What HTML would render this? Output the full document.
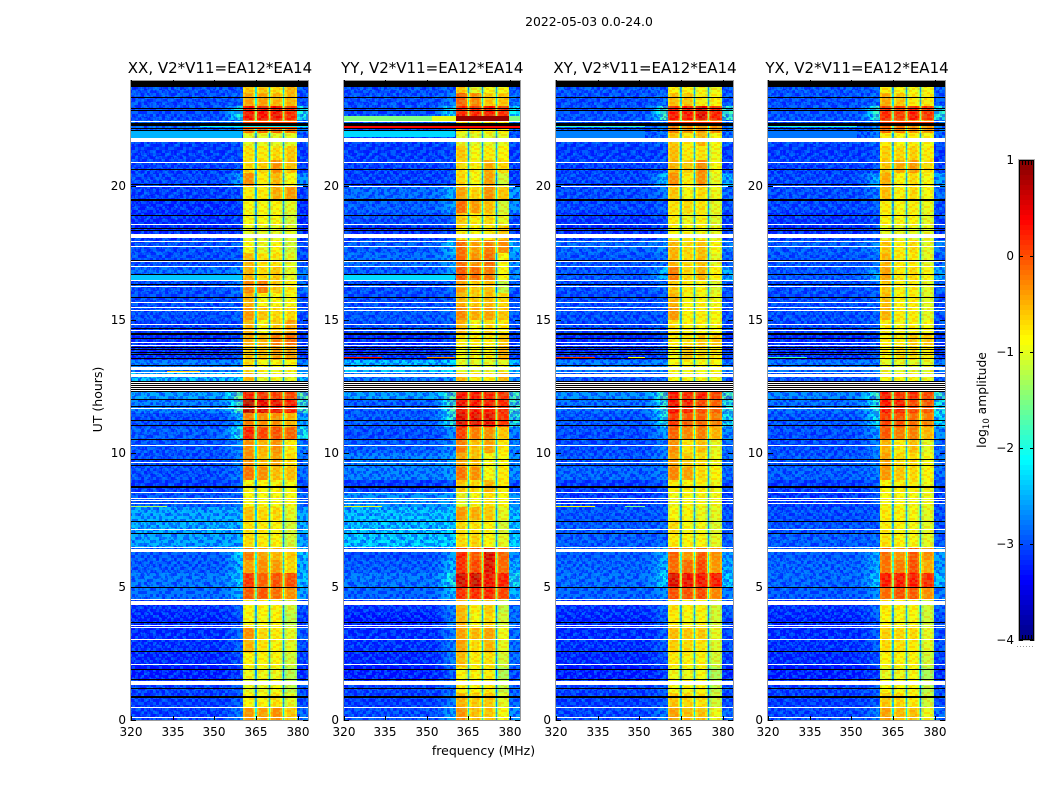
<!DOCTYPE html>
<html lang="en">
<head>
<meta charset="utf-8">
<title>2022-05-03 0.0-24.0</title>
<style>
html,body{margin:0;padding:0;background:#fff;}
svg{display:block;}
text{font-family:"DejaVu Sans","Liberation Sans",sans-serif;fill:#000;}
</style>
</head>
<body>
<svg id="figure" xmlns="http://www.w3.org/2000/svg" width="1050" height="800" viewBox="0 0 1050 800">
  <rect width="1050" height="800" fill="#fff"/>
  <defs>
    <pattern id="speckle" patternUnits="userSpaceOnUse" width="48" height="48"></pattern>
    <pattern id="speckleFine" patternUnits="userSpaceOnUse" width="29" height="37"></pattern>
    <pattern id="bandScatter" patternUnits="userSpaceOnUse" width="48" height="32"></pattern>
  </defs>
  <text x="589" y="26" font-size="12.4" text-anchor="middle">2022-05-03 0.0-24.0</text>
  <g id="panels"></g>
  <text x="483.5" y="755" font-size="12.5" text-anchor="middle">frequency (MHz)</text>
  <text x="0" y="0" font-size="12.5" text-anchor="middle" transform="translate(102,399.5) rotate(-90)">UT (hours)</text>
  <g id="colorbar"></g>
  <text x="0" y="0" font-size="12.3" text-anchor="middle" transform="translate(986,400) rotate(-90)">log<tspan dy="3" font-size="8.5">10</tspan><tspan dy="-3"> amplitude</tspan></text>
</svg>
<script>
// ---- categories and axes ----
const panelNames = ['XX', 'YY', 'XY', 'YX'];
const panelTitles = ['XX, V2*V11=EA12*EA14', 'YY, V2*V11=EA12*EA14', 'XY, V2*V11=EA12*EA14', 'YX, V2*V11=EA12*EA14'];
const freqTicks = [320, 335, 350, 365, 380];
const hourTicks = [0, 5, 10, 15, 20];
const colorbarTicks = [-4, -3, -2, -1, 0, 1];
const colorMin = -4;
const colorMax = 1;
const hourBins = [23.5,23,22.5,22,21.5,21,20.5,20,19.5,19,18.5,18,17.5,17,16.5,16,15.5,15,14.5,14,13.5,13,12.5,12,11.5,11,10.5,10,9.5,9,8.5,8,7.5,7,6.5,6,5.5,5,4.5,4,3.5,3,2.5,2,1.5,1,0.5,0];
const binHours = 0.5;
const subbandEdges = [360.4, 365, 370, 375, 379.7];
const shoulderChannels = [352, 353, 354, 355, 356, 357, 358, 359];
const shoulderShape = [0.06, 0.12, 0.22, 0.38, 0.58, 0.78, 0.92, 1];

// ---- background level (log10 amplitude) per half-hour bin ----
const backgroundXX = [-3.0,-3.0,-3.0,-2.9,-3.1,-3.1,-3.1,-3.05,-3.1,-3.2,-3.2,-3.2,-3.0,-3.0,-2.8,-3.0,-3.0,-3.0,-3.1,-3.2,-3.2,-2.7,-2.3,-2.5,-2.7,-3.0,-2.9,-2.95,-3.0,-3.0,-3.1,-2.95,-2.45,-2.4,-2.45,-2.9,-2.9,-2.75,-2.8,-3.2,-3.25,-3.2,-3.2,-3.25,-3.3,-3.1,-3.1,-3.1];
const backgroundYY = [-3.0,-3.0,-3.0,-3.0,-3.1,-3.1,-3.1,-3.1,-2.8,-2.9,-3.0,-3.2,-2.9,-2.8,-2.9,-3.0,-3.0,-2.95,-3.0,-3.2,-3.2,-2.3,-2.7,-2.5,-2.9,-2.9,-3.0,-2.9,-2.7,-2.7,-3.1,-2.6,-2.3,-2.25,-2.2,-3.0,-2.9,-2.75,-2.85,-3.2,-3.3,-3.2,-3.2,-3.25,-3.3,-3.1,-3.1,-3.0];
const backgroundXY = [-2.95,-3.0,-2.95,-3.0,-3.05,-3.1,-3.1,-3.05,-3.0,-3.05,-3.15,-3.2,-2.85,-2.95,-2.95,-3.0,-3.0,-3.0,-3.05,-3.2,-3.2,-2.7,-2.9,-2.6,-2.8,-2.95,-3.0,-3.0,-2.95,-2.85,-3.1,-3.15,-2.95,-2.9,-2.9,-2.9,-2.85,-2.8,-2.85,-3.2,-3.25,-3.2,-3.2,-3.25,-3.3,-3.1,-3.1,-3.05];
const backgroundYX = [-2.95,-3.0,-2.95,-3.0,-3.05,-3.1,-3.1,-3.05,-3.0,-3.05,-3.15,-3.2,-2.9,-2.95,-2.95,-3.0,-3.0,-3.0,-3.05,-3.2,-3.2,-2.75,-2.9,-2.65,-2.8,-2.95,-3.0,-3.0,-2.95,-2.9,-3.1,-3.15,-3.0,-2.95,-2.9,-2.9,-2.85,-2.85,-2.9,-3.2,-3.25,-3.2,-3.2,-3.25,-3.3,-3.1,-3.1,-3.05];

// ---- level just below the passband edge, per half-hour bin ----
const shoulderXX = [-3.0,-2.9,-1.9,-2.7,-2.9,-3.0,-3.0,-2.5,-3.0,-3.1,-3.1,-3.1,-2.9,-2.9,-2.6,-2.7,-2.9,-2.9,-3.0,-3.0,-3.0,-2.6,-2.2,-1.5,-1.7,-2.4,-1.9,-2.6,-2.7,-2.7,-2.9,-2.8,-2.4,-2.35,-2.4,-2.2,-2.3,-2.2,-2.4,-2.9,-3.0,-2.8,-2.9,-3.0,-3.1,-2.9,-2.9,-2.7];
const shoulderYY = [-2.9,-2.7,-2.0,-2.8,-2.9,-3.0,-3.0,-3.0,-2.4,-2.5,-2.9,-3.0,-2.3,-2.5,-2.5,-2.8,-2.9,-2.8,-2.9,-3.0,-3.0,-2.2,-2.5,-1.6,-1.7,-1.8,-2.6,-2.6,-2.5,-2.5,-2.9,-2.5,-2.25,-2.2,-2.15,-2.5,-2.3,-1.9,-2.3,-2.7,-2.7,-2.7,-2.7,-2.7,-2.9,-2.8,-2.7,-2.5];
const shoulderXY = [-2.9,-2.8,-1.7,-2.7,-2.8,-3.0,-3.0,-2.3,-2.7,-2.9,-3.0,-3.0,-2.6,-2.8,-2.3,-2.8,-2.9,-2.9,-2.9,-3.0,-3.0,-2.6,-2.8,-1.6,-1.8,-1.9,-2.5,-2.7,-2.7,-2.7,-2.9,-3.0,-2.9,-2.85,-2.85,-2.4,-2.3,-2.1,-2.6,-2.8,-2.9,-2.9,-2.9,-3.0,-3.1,-2.9,-2.9,-2.7];
const shoulderYX = [-2.9,-2.8,-1.8,-2.7,-2.8,-3.0,-3.0,-2.4,-2.7,-2.9,-3.0,-3.0,-2.6,-2.8,-2.4,-2.8,-2.9,-2.9,-2.9,-3.0,-3.0,-2.65,-2.8,-1.7,-1.9,-2.0,-2.5,-2.7,-2.7,-2.7,-2.9,-3.0,-2.9,-2.9,-2.85,-2.4,-2.4,-2.2,-2.6,-2.8,-2.9,-2.9,-2.9,-3.0,-3.1,-2.9,-2.9,-2.7];

// ---- passband level per half-hour bin: one row per bin, four sub-bands ----
const subbandsXX = [[-.6,-.6,-.7,-.5],[-.4,-.4,-.5,-.5],[.4,.4,.45,.25],[-.15,-.1,-.05,-.15],[-1,-1,-1,-1],[-.75,-.8,-.7,-.6],[-.7,-.65,-.3,-.55],[-.3,-.8,-.5,-.9],[-.8,-.8,-.45,-.35],[-.9,-.9,-.85,-1],[-.9,-.9,-.9,-1.1],[-1,-1,-1,-1],[-.9,-1,-.85,-1.1],[-.5,-.75,-.75,-1],[-.5,-.7,-.6,-1],[-.25,-.2,-.6,-.8],[-.5,-.9,-.9,-.9],[-.35,-.6,-.7,-.7],[-.5,-.9,-.6,-.4],[-.45,-.5,-.2,-.1],[-.6,-.6,-.4,-.4],[-.7,-.9,-.9,-.85],[-.5,-1,-.9,-1],[.3,.2,.15,.1],[.75,.5,.45,.3],[-.2,-.3,-.3,-.5],[.3,.1,.05,-.05],[-.3,-.5,-.3,-.8],[-.3,-.55,-.4,-.7],[-.15,-.3,-.55,-.55],[-.9,-.85,-.85,-.9],[-.9,-.9,-.9,-.9],[-.55,-.7,-.7,-1],[-.75,-.8,-.85,-1.1],[-.7,-.8,-.85,-1.1],[-.2,-.4,-.5,-.6],[-.4,-.3,-.35,-.7],[.2,-.05,.05,.05],[0,0,-.1,-.3],[-.85,-.85,-.85,-1.1],[-.9,-.9,-.85,-1.2],[-.3,-.7,-.8,-1],[-.5,-.75,-.85,-1],[-.85,-.85,-.85,-1.1],[-.95,-.95,-.95,-1.25],[-1,-1,-.9,-1.2],[-.85,-.85,-.75,-1],[-.35,-.4,-.3,-.6]];
const subbandsYY = [[-.6,-1,-.9,-.9],[-.05,-.25,-.6,-.6],[.3,.3,.35,.2],[-.8,-.8,-.8,-.8],[-1,-1,-1,-1],[-.6,-.9,-.8,-.85],[-.7,-.8,-.45,-.7],[-.7,-.9,-.4,-1.1],[-.4,-.65,-.3,-.6],[-.1,-.35,-.55,-1.1],[-.6,-.8,-.7,-1],[-.8,-.9,-.8,-.6],[-.1,-.4,-.2,-.3],[-.1,-.3,-.1,-.9],[0,-.1,-.2,-.9],[-.4,-.6,-.55,-1.2],[-.5,-.6,-.55,-.7],[-.25,-.45,-.4,-.6],[-.5,-.9,-.7,-.8],[-.8,-.8,-.8,-.6],[-.9,-.9,-.85,-.5],[-1,-1,-1,-1],[-.5,-.8,-.8,-.5],[.4,.35,.3,.2],[.45,.4,.35,.25],[.55,.5,.5,.2],[.15,-.2,-.3,-.6],[-.2,-.55,-.4,-.8],[-.4,-.55,-.9,-.9],[-.15,-.3,-.9,-.8],[-.6,-.7,-.5,-.8],[-1,-.9,-.75,-.9],[-.35,-.45,-.6,-1],[-.7,-.75,-.85,-1.1],[-.7,-.65,-.85,-1],[.3,0,.6,-.05],[.25,.1,.55,-.1],[.6,.65,.45,.3],[.25,.25,.3,.1],[-.5,-.8,-.6,-1.2],[-.5,-.9,-.7,-1.1],[-.4,-.5,-.4,-.95],[-.4,-.7,-.5,-1],[-.55,-.8,-.75,-1.1],[-.85,-.85,-.8,-1.3],[-.8,-.85,-.8,-1.2],[-.5,-.6,-.6,-1],[-.3,-.55,-.6,-.9]];
const subbandsXY = [[-.85,-.85,-.9,-.95],[-.55,-.6,-.8,-.85],[.35,.35,.55,.3],[-.2,-.3,-.3,-.3],[-.6,-.8,-.5,-.9],[-.55,-.8,-.75,-.95],[-.5,-.6,-.25,-.9],[-.3,-.8,-.3,-1],[-.6,-.9,-.7,-.95],[-.75,-.7,-.75,-1],[-.8,-.95,-.8,-1.05],[-.9,-.9,-.9,-1],[-.5,-.7,-.55,-.9],[-.5,-.7,-.55,-1],[-.2,-.7,-.5,-.85],[-.6,-.8,-.85,-1.05],[-.5,-.85,-.85,-.95],[-.35,-.85,-.8,-.9],[-.75,-.85,-.85,-.9],[-.8,-.75,-.6,-.6],[-.9,-.6,-.7,-.8],[-.9,-.9,-.9,-.9],[-.9,-.9,-.9,-.95],[.35,.25,.35,.1],[.4,.3,.1,-.05],[.2,0,-.05,-.2],[-.05,-.25,-.2,-.5],[-.3,-.75,-.55,-1],[-.4,-.6,-.7,-.95],[-.25,-.4,-.7,-.85],[-.8,-.85,-.8,-.95],[-.95,-.9,-.9,-.95],[-.9,-.85,-.95,-1],[-.7,-.9,-.9,-1.05],[-.8,-.85,-.85,-1],[-.05,-.35,0,-.3],[-.1,-.1,.1,-.35],[.55,.45,.4,.35],[.05,.05,.1,-.25],[-.75,-.85,-.8,-1.1],[-.8,-.9,-.85,-1.1],[-.55,-.6,-.6,-1],[-.65,-.7,-.75,-1.05],[-.8,-.85,-.85,-1.1],[-.95,-.95,-.9,-1.3],[-.9,-.9,-.85,-1.2],[-.6,-.7,-.75,-1.1],[-.4,-.55,-.55,-.95]];
const subbandsYX = [[-.8,-.9,-.9,-.9],[-.45,-.6,-.8,-.8],[.25,.15,.35,.2],[-.1,-.2,-.3,-.35],[-.8,-.9,-.8,-.9],[-.65,-.7,-.65,-.8],[-.6,-.45,-.35,-.7],[-.45,-.85,-.7,-.9],[-.55,-.85,-.7,-.9],[-.8,-.9,-.8,-.95],[-.85,-.9,-.85,-1],[-1,-1,-1,-1],[-.6,-.8,-.7,-1],[-.5,-.8,-.8,-1],[-.4,-.8,-.7,-.9],[-.6,-.85,-.8,-1],[-.55,-.85,-.8,-1],[-.5,-.8,-.8,-1],[-.8,-.9,-.85,-.9],[-.8,-.8,-.6,-.6],[-.85,-.75,-.7,-.8],[-1,-1,-1,-1],[-.9,-.9,-.85,-.95],[.35,.2,.25,.1],[.35,.3,.1,0],[.15,.05,-.1,-.2],[0,-.2,-.2,-.5],[-.5,-.8,-.55,-1],[-.4,-.7,-.7,-.9],[-.35,-.6,-.7,-.85],[-.85,-.85,-.8,-.95],[-.9,-.9,-.9,-.95],[-.8,-.85,-.9,-1],[-.8,-.85,-.9,-1],[-.75,-.85,-.9,-1],[-.1,-.35,0,-.3],[-.15,-.2,.05,-.45],[.35,.35,.35,.25],[-.1,.05,0,-.3],[-.8,-.85,-.85,-1.1],[-.85,-.9,-.9,-1.1],[-.65,-.7,-.7,-1],[-.7,-.75,-.8,-1],[-.85,-.85,-.85,-1.1],[-1,-.95,-.9,-1.3],[-.9,-.9,-.85,-1.2],[-.6,-.7,-.8,-1.1],[-.4,-.55,-.55,-.95]];

// ---- short events inside a bin: [hour start, hour end, level, MHz from, MHz to] ----
const eventsXX = [[22.15,22.45,.05,360.4,379.7],[22.22,22.26,-2.1,345,384],[21.81,22.1,-2.5,320,360],[16.5,16.72,-2.4,320,360],[13.03,13.07,-.6,333,345],[7.98,8.03,-1.3,320,333]];
const eventsYY = [[22.43,22.65,-1.5,320,352],[22.43,22.65,-1,352,360.4],[22.43,22.65,.9,360.4,379.7],[22.43,22.65,-1.5,379.7,384],[22.2,22.28,.35,320,384],[21.85,22.1,-2.3,320,360],[13.56,13.6,.3,320,334],[13.56,13.6,-.3,350,360],[7.97,8.02,-1,320,334],[16.5,16.72,-2.3,320,360]];
const eventsXY = [[22.22,22.28,-1.9,320,352],[22.3,22.47,.15,360.4,379.7],[21.81,22.1,-2.75,320,352],[13.56,13.6,.1,320,334],[13.56,13.6,-.9,346,352],[13.02,13.06,-.9,320,352],[7.97,8.02,-.9,320,334],[7.97,8.02,-1.5,345,352]];
const eventsYX = [[22.22,22.28,-2,320,352],[22.3,22.47,.1,360.4,379.7],[21.81,22.1,-2.8,320,352],[13.56,13.6,-1.8,320,334]];

// ---- flagged integrations, hours ----
const whiteLineHours = [22.47,20.90,20.00,18.58,17.96,17.78,17.20,17.02,16.48,16.25,15.68,15.47,15.37,14.85,14.63,14.16,14.05,13.04,11.69,10.30,9.66,8.53,8.31,8.25,8.12,7.15,6.50,4.55,3.56,3.47,3.02,2.09,0.48,0.10];
const whiteBandHours = [[21.65,21.81],[18.05,18.23],[13.12,13.24],[12.85,12.97],[12.33,12.72],[6.30,6.41],[4.31,4.47],[1.31,1.46]];
const blackLineHours = [23.34,22.92,22.88,22.19,22.13,20.64,20.09,18.93,18.45,18.35,17.24,16.71,16.35,15.87,14.68,14.52,14.46,14.31,13.99,13.91,13.80,13.72,13.58,13.30,12.71,12.64,12.56,12.48,12.41,12.33,12.05,11.77,11.24,11.06,10.52,9.77,9.56,7.47,7.0,4.97,3.66,2.57,1.90,1.53,1.19,0.90,0.85];
const blackBandHours = [[23.73,24],[22.28,22.36],[19.47,19.51],[8.71,8.78]];

// ---- fine channel-to-channel scatter (−1 low, 0 none, 1 high): estimated texture ----
const speckleRows = [
[1,1,0,-1,-1,0,1,-1,0,0,1,1,-1,0,-1,-1],
[0,-1,-1,0,1,0,0,-1,1,1,0,-1,-1,1,0,1],
[-1,0,1,1,-1,-1,1,0,0,-1,-1,0,1,1,-1,0],
[1,-1,0,1,0,-1,-1,1,1,0,-1,1,0,-1,-1,1],
[0,0,-1,-1,1,1,0,0,-1,-1,1,0,-1,1,0,0],
[-1,1,1,0,0,-1,1,-1,-1,1,0,0,1,1,-1,-1],
[1,0,-1,1,-1,0,-1,1,0,0,-1,1,-1,0,1,0],
[-1,-1,0,0,1,1,-1,0,1,-1,1,-1,0,0,-1,1],
[0,1,-1,1,0,-1,0,0,-1,1,1,0,1,-1,1,0],
[1,-1,1,-1,-1,0,1,1,0,-1,0,-1,-1,1,0,-1],
[-1,0,0,1,-1,1,-1,0,1,0,-1,1,0,0,1,1],
[0,1,-1,0,1,0,0,-1,-1,1,1,-1,1,-1,-1,0],
[1,-1,1,-1,0,-1,1,1,0,0,-1,0,0,1,1,-1],
[-1,0,0,1,1,-1,0,-1,1,-1,1,1,-1,-1,0,1],
[0,1,-1,-1,0,1,-1,0,-1,1,0,-1,1,0,-1,0],
[1,-1,0,1,-1,0,1,1,0,-1,-1,1,0,1,1,-1]
];

// ---- layout ----
const panelLeft = [131, 343.5, 556, 768];
const panelRight = [308, 520, 733, 945];
const panelBottom = 720;
const pxPerMHz = 2.775;
const pxPerHour = 26.68;
const axisTop = 80;
const cbarLeft = 1019, cbarWidth = 15, cbarTop = 160, cbarBottom = 640;

const allBackground = [backgroundXX, backgroundYY, backgroundXY, backgroundYX];
const allShoulder = [shoulderXX, shoulderYY, shoulderXY, shoulderYX];
const allSubbands = [subbandsXX, subbandsYY, subbandsXY, subbandsYX];
const allEvents = [eventsXX, eventsYY, eventsXY, eventsYX];

const NS = 'http://www.w3.org/2000/svg';
function jet(v) {
  const t = Math.max(0, Math.min(1, (v - colorMin) / (colorMax - colorMin)));
  const r = Math.round(255 * Math.max(0, Math.min(1, Math.min(4 * t - 1.5, 4.5 - 4 * t))));
  const g = Math.round(255 * Math.max(0, Math.min(1, Math.min(4 * t - 0.5, 3.5 - 4 * t))));
  const b = Math.round(255 * Math.max(0, Math.min(1, Math.min(4 * t + 0.5, 2.5 - 4 * t))));
  return 'rgb(' + r + ',' + g + ',' + b + ')';
}
function xScale(p, mhz) { return panelLeft[p] + (mhz - 320) * pxPerMHz; }
function yScale(h) { return panelBottom - h * pxPerHour; }
function svgEl(tag, parent) { const e = document.createElementNS(NS, tag); parent.appendChild(e); return e; }

function addCell(parent, p, m0, m1, h0, h1, v) {
  const x0 = Math.round(xScale(p, m0)), x1 = Math.min(panelRight[p], Math.round(xScale(p, m1)));
  const y0 = Math.round(yScale(h1)), y1 = Math.round(yScale(h0));
  const el = svgEl('rect', parent);
  
  
  el.setAttribute('x', x0);
  el.setAttribute('y', y0);
  el.setAttribute('width', Math.max(1, x1 - x0));
  el.setAttribute('height', Math.max(1, y1 - y0));
  el.setAttribute('fill', jet(v));
  return el;
}
function addFlag(parent, p, y0, height, color, name) {
  const el = svgEl('rect', parent);
  
  
  el.setAttribute('x', Math.round(panelLeft[p]));
  el.setAttribute('y', y0);
  el.setAttribute('width', panelRight[p] - Math.round(panelLeft[p]));
  el.setAttribute('height', height);
  el.setAttribute('fill', color);
}
function addLine(parent, p, h, color, name) {
  addFlag(parent, p, Math.round(yScale(h)), 1, color, name);
}
function addBand(parent, p, b, color, name) {
  const y0 = Math.round(yScale(b[1]));
  addFlag(parent, p, y0, Math.max(1, Math.round(yScale(b[0])) - y0), color, name);
}
function addScatter(parent, p, m0, m1, patternId, name) {
  const x0 = Math.round(xScale(p, m0));
  const x1 = Math.min(panelRight[p], Math.round(xScale(p, m1)));
  const el = svgEl('rect', parent);
  
  
  el.setAttribute('x', x0);
  el.setAttribute('y', axisTop);
  el.setAttribute('width', x1 - x0);
  el.setAttribute('height', panelBottom - axisTop);
  el.setAttribute('fill', 'url(#' + patternId + ')');
  el.setAttribute('shape-rendering', 'crispEdges');
}

// speckle tiles
const speckle = document.getElementById('speckle');
speckleRows.forEach(function (row, r) {
  row.forEach(function (s, c) {
    if (!s) return;
    const el = svgEl('rect', speckle);
    
    
    el.setAttribute('x', c * 3);
    el.setAttribute('y', r * 3);
    el.setAttribute('width', 3);
    el.setAttribute('height', 3);
    el.setAttribute('fill', s > 0 ? 'rgba(0,150,255,0.4)' : 'rgba(0,0,255,0.45)');
  });
});
const speckleFine = document.getElementById('speckleFine');
speckleRows.forEach(function (row, r) {
  row.forEach(function (s, c) {
    if (s === 0 || (r + c) % 2) return;
    const el = svgEl('rect', speckleFine);
    
    
    el.setAttribute('x', (c * 2) % 29);
    el.setAttribute('y', (r * 2 + 3) % 37);
    el.setAttribute('width', 2);
    el.setAttribute('height', 2);
    el.setAttribute('fill', s > 0 ? 'rgba(0,0,255,0.3)' : 'rgba(0,170,255,0.3)');
  });
});
const bandScatter = document.getElementById('bandScatter');
speckleRows.forEach(function (row, r) {
  row.forEach(function (s, c) {
    if (!s) return;
    const el = svgEl('rect', bandScatter);
    
    
    el.setAttribute('x', c * 3);
    el.setAttribute('y', r * 2);
    el.setAttribute('width', 3);
    el.setAttribute('height', 2);
    el.setAttribute('fill', s > 0 ? 'rgba(255,120,0,0.26)' : 'rgba(170,255,90,0.22)');
  });
});

const panelsRoot = document.getElementById('panels');
panelNames.forEach(function (name, p) {
  const g = svgEl('g', panelsRoot);
  
  

  const cells = svgEl('g', g);
  
  
  cells.setAttribute('shape-rendering', 'crispEdges');

  hourBins.forEach(function (h, i) {
    const h1 = h + binHours;
    const bg = allBackground[p][i];
    const sh = allShoulder[p][i];
    const bands = allSubbands[p][i];
    addCell(cells, p, 320, shoulderChannels[0], h, h1, bg);
    shoulderChannels.forEach(function (m, k) {
      addCell(cells, p, m, k + 1 < shoulderChannels.length ? shoulderChannels[k + 1] : subbandEdges[0], h, h1, bg + shoulderShape[k] * (sh - bg));
    });
    bands.forEach(function (v, b) {
      const a = subbandEdges[b], z = subbandEdges[b + 1];
      const inL = b > 0 ? 0.55 : 0, inR = b < 3 ? 0.55 : 0;
      addCell(cells, p, a + inL, a + inL + 0.6, h, h1, v - 0.18);
      addCell(cells, p, a + inL + 0.6, z - inR - 0.6, h, h1, v);
      addCell(cells, p, z - inR - 0.6, z - inR, h, h1, v - 0.18);
      if (b < 3) {
        const next = bands[b + 1];
        const low = Math.min(v, next);
        addCell(cells, p, z - 0.55, z - 0.2, h, h1, low - 0.6);
        addCell(cells, p, z - 0.2, z + 0.25, h, h1, low - 1.7);
        addCell(cells, p, z + 0.25, z + 0.55, h, h1, low - 0.6);
      }
    });
    addCell(cells, p, subbandEdges[4], 384, h, h1, Math.max(bg, sh - 0.1));
  });

  // channel scatter over the out-of-band regions and inside the passband
  addScatter(g, p, 320, subbandEdges[0], 'speckle', 'background-scatter-low');
  addScatter(g, p, subbandEdges[4], 384, 'speckle', 'background-scatter-high');
  addScatter(g, p, 320, subbandEdges[0], 'speckleFine', 'background-fine-scatter-low');
  addScatter(g, p, subbandEdges[4], 384, 'speckleFine', 'background-fine-scatter-high');
  addScatter(g, p, subbandEdges[0], subbandEdges[4], 'bandScatter', 'passband-scatter');

  const ev = svgEl('g', g);
  
  
  ev.setAttribute('shape-rendering', 'crispEdges');
  allEvents[p].forEach(function (e) { addCell(ev, p, e[3], e[4], e[0], e[1], e[2]); });

  const fl = svgEl('g', g);
  
  
  fl.setAttribute('shape-rendering', 'crispEdges');
  whiteBandHours.forEach(function (b) { addBand(fl, p, b, '#fff', 'flag-white-band'); });
  whiteLineHours.forEach(function (h) { addLine(fl, p, h, '#fff', 'flag-white-line'); });
  blackBandHours.forEach(function (b) { addBand(fl, p, b, '#000', 'flag-black-band'); });
  blackLineHours.forEach(function (h) { addLine(fl, p, h, '#000', 'flag-black-line'); });

  // frame
  const frame = svgEl('rect', g);
  
  
  frame.setAttribute('x', Math.round(panelLeft[p]) - 0.5);
  frame.setAttribute('y', axisTop + 0.5);
  frame.setAttribute('width', panelRight[p] - Math.round(panelLeft[p]) + 1);
  frame.setAttribute('height', panelBottom - axisTop);
  frame.setAttribute('fill', 'none');
  frame.setAttribute('stroke', '#9c9c9c');
  frame.setAttribute('stroke-width', '1');
  frame.setAttribute('shape-rendering', 'crispEdges');

  // ticks and labels
  freqTicks.forEach(function (f) {
    const x = Math.round(xScale(p, f)) + 0.5;
    const tb = svgEl('line', g);
    
    
    tb.setAttribute('x1', x);
    tb.setAttribute('x2', x);
    tb.setAttribute('y1', panelBottom);
    tb.setAttribute('y2', panelBottom - 4);
    tb.setAttribute('stroke', '#000');
    const tt = svgEl('line', g);
    
    
    tt.setAttribute('x1', x);
    tt.setAttribute('x2', x);
    tt.setAttribute('y1', axisTop);
    tt.setAttribute('y2', axisTop + 4);
    tt.setAttribute('stroke', '#000');
    const lab = svgEl('text', g);
    
    
    lab.setAttribute('x', x - 0.5);
    lab.setAttribute('y', 736);
    lab.setAttribute('font-size', '12');
    lab.setAttribute('text-anchor', 'middle');
    lab.textContent = f;
  });
  hourTicks.forEach(function (h) {
    const y = Math.round(yScale(h)) + 0.5;
    const tl = svgEl('line', g);
    
    
    tl.setAttribute('x1', Math.round(panelLeft[p]));
    tl.setAttribute('x2', Math.round(panelLeft[p]) + 5);
    tl.setAttribute('y1', y);
    tl.setAttribute('y2', y);
    tl.setAttribute('stroke', '#000');
    const tr = svgEl('line', g);
    
    
    tr.setAttribute('x1', panelRight[p]);
    tr.setAttribute('x2', panelRight[p] - 5);
    tr.setAttribute('y1', y);
    tr.setAttribute('y2', y);
    tr.setAttribute('stroke', '#000');
    const lab = svgEl('text', g);
    
    
    lab.setAttribute('x', Math.round(panelLeft[p]) - 5);
    lab.setAttribute('y', y + 3.5);
    lab.setAttribute('font-size', '12');
    lab.setAttribute('text-anchor', 'end');
    lab.textContent = h;
  });

  const title = svgEl('text', g);
  
  
  title.setAttribute('x', (panelLeft[p] + panelRight[p]) / 2 + 0.5);
  title.setAttribute('y', 73);
  title.setAttribute('font-size', '15');
  title.setAttribute('text-anchor', 'middle');
  title.textContent = panelTitles[p];
});

// colorbar
const cbar = document.getElementById('colorbar');
const cbarY = function (v) { return cbarBottom - (v - colorMin) / (colorMax - colorMin) * (cbarBottom - cbarTop); };
const cbarLevels = [];
for (let k = 0; k < 96; k++) { cbarLevels.push(colorMin + (k + 0.5) * (colorMax - colorMin) / 96); }
cbarLevels.forEach(function (v) {
  const half = (colorMax - colorMin) / 192;
  const el = svgEl('rect', cbar);
  
  
  el.setAttribute('x', cbarLeft);
  el.setAttribute('y', Math.round(cbarY(v + half)));
  el.setAttribute('width', cbarWidth);
  el.setAttribute('height', Math.round(cbarY(v - half)) - Math.round(cbarY(v + half)));
  el.setAttribute('fill', jet(v));
  el.setAttribute('shape-rendering', 'crispEdges');
});
const cbFrame = svgEl('rect', cbar);


cbFrame.setAttribute('x', cbarLeft + 0.5);
cbFrame.setAttribute('y', cbarTop + 0.5);
cbFrame.setAttribute('width', cbarWidth - 1);
cbFrame.setAttribute('height', cbarBottom - cbarTop - 1);
cbFrame.setAttribute('fill', 'none');
cbFrame.setAttribute('stroke', '#000');
cbFrame.setAttribute('shape-rendering', 'crispEdges');
const cbOuter = svgEl('rect', cbar);


cbOuter.setAttribute('x', cbarLeft - 0.5);
cbOuter.setAttribute('y', cbarTop - 0.5);
cbOuter.setAttribute('width', cbarWidth + 1);
cbOuter.setAttribute('height', cbarBottom - cbarTop + 1);
cbOuter.setAttribute('fill', 'none');
cbOuter.setAttribute('stroke', '#b0b0b0');
cbOuter.setAttribute('shape-rendering', 'crispEdges');
colorbarTicks.forEach(function (v) {
  const y = Math.round(cbarY(v)) + 0.5;
  const l = svgEl('line', cbar);
  
  
  l.setAttribute('x1', cbarLeft);
  l.setAttribute('x2', cbarLeft + 4);
  l.setAttribute('y1', y);
  l.setAttribute('y2', y);
  l.setAttribute('stroke', '#000');
  const r = svgEl('line', cbar);
  
  
  r.setAttribute('x1', cbarLeft + cbarWidth - 4);
  r.setAttribute('x2', cbarLeft + cbarWidth);
  r.setAttribute('y1', y);
  r.setAttribute('y2', y);
  r.setAttribute('stroke', '#000');
  const lab = svgEl('text', cbar);
  
  
  lab.setAttribute('x', cbarLeft - 5);
  lab.setAttribute('y', Math.min(y + 3.5, 644));
  lab.setAttribute('font-size', '12');
  lab.setAttribute('text-anchor', 'end');
  lab.textContent = v < 0 ? '\u2212' + Math.abs(v) : String(v);
});
const cbarMinorOffsets = [3, 6, 9, 12];
cbarMinorOffsets.forEach(function (o) {
  const top = svgEl('line', cbar);
  
  
  top.setAttribute('x1', cbarLeft + o + 0.5);
  top.setAttribute('x2', cbarLeft + o + 0.5);
  top.setAttribute('y1', cbarTop);
  top.setAttribute('y2', cbarTop + 5);
  top.setAttribute('stroke', '#000');
  const bottom = svgEl('line', cbar);
  
  
  bottom.setAttribute('x1', cbarLeft + o + 0.5);
  bottom.setAttribute('x2', cbarLeft + o + 0.5);
  bottom.setAttribute('y1', cbarBottom);
  bottom.setAttribute('y2', cbarBottom - 5);
  bottom.setAttribute('stroke', '#000');
});
const cbarDots = svgEl('line', cbar);


cbarDots.setAttribute('x1', 1017);
cbarDots.setAttribute('x2', 1035);
cbarDots.setAttribute('y1', 646.5);
cbarDots.setAttribute('y2', 646.5);
cbarDots.setAttribute('stroke', '#999');
cbarDots.setAttribute('stroke-dasharray', '1 2');
</script>
</body>
</html>
